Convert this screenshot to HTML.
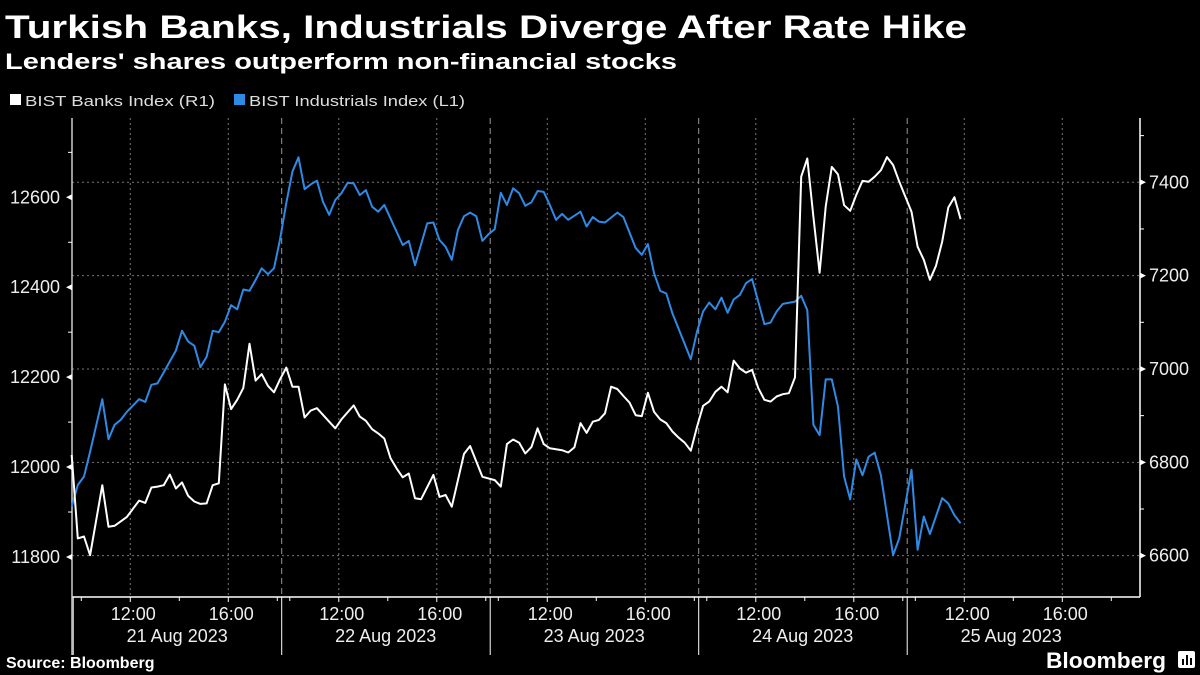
<!DOCTYPE html>
<html><head><meta charset="utf-8"><style>
html,body{margin:0;padding:0;background:#000;}
svg{display:block;font-family:"Liberation Sans",sans-serif;}
</style></head><body>
<svg id="chart" width="1200" height="675" viewBox="0 0 1200 675">
<rect width="1200" height="675" fill="#000"/>
<text x="5" y="38" fill="#fff" font-size="32" font-weight="bold" textLength="962" lengthAdjust="spacingAndGlyphs">Turkish Banks, Industrials Diverge After Rate Hike</text>
<text x="5" y="69" fill="#fff" font-size="22" font-weight="bold" textLength="672" lengthAdjust="spacingAndGlyphs">Lenders' shares outperform non-financial stocks</text>
<g>
<g><rect x="10" y="94" width="11" height="11" fill="#fff"/><text x="25" y="106" fill="#ddd" font-size="15" textLength="190" lengthAdjust="spacingAndGlyphs">BIST Banks Index (R1)</text></g>
<g><rect x="234" y="94" width="11" height="11" fill="#2f8ae6"/><text x="249" y="106" fill="#ddd" font-size="15" textLength="216" lengthAdjust="spacingAndGlyphs">BIST Industrials Index (L1)</text></g>
</g>
<g id="grid"></g>
<g id="axes"></g>
<g id="series"></g>
<text x="6" y="668" fill="#fff" font-size="16" font-weight="bold">Source: Bloomberg</text>
<text x="1046" y="668" fill="#fff" font-size="22" font-weight="bold" textLength="120" lengthAdjust="spacingAndGlyphs">Bloomberg</text>
<g><rect x="1178" y="651" width="17" height="17" rx="2" fill="#fff"/><rect x="1182" y="659" width="2" height="6" fill="#000"/><rect x="1186" y="655" width="2" height="10" fill="#000"/><rect x="1190" y="658" width="2" height="7" fill="#000"/></g>
</svg>
<script>
// quarter-hour bar index (0 = first bar of 21 Aug)
const industrialsIdx = [0,1,2,3,5,6,7,8,9,11,12,13,14,17,18,19,20,21,22,23,24,25,26,27,28,29,30,31,32,33,34,35,36,37,38,39,40,41,42,43,44,45,46,47,48,49,50,51,54,55,56,58,59,60,61,62,63,64,65,66,67,68,69,70,71,72,73,74,75,76,77,78,79,80,81,83,84,85,86,87,89,90,92,93,94,95,96,97,98,101,102,103,104,105,106,107,108,109,110,111,113,114,115,116,118,119,120,121,122,123,124,125,126,127,128,129,130,131,132,134,135,137,138,139,140,142,143,144,145];
const industrialsVals = [11912,11960,11979,12034,12151,12062,12094,12105,12123,12151,12145,12183,12186,12259,12303,12279,12270,12222,12245,12303,12300,12323,12360,12351,12395,12392,12416,12442,12429,12442,12507,12587,12657,12689,12618,12629,12637,12590,12561,12594,12609,12632,12631,12605,12616,12579,12568,12583,12494,12503,12449,12542,12544,12505,12490,12461,12527,12558,12566,12558,12503,12518,12529,12610,12583,12620,12609,12581,12589,12614,12612,12583,12550,12563,12550,12568,12535,12556,12546,12544,12566,12556,12487,12472,12496,12431,12392,12386,12342,12240,12301,12346,12366,12351,12377,12343,12373,12383,12409,12418,12318,12321,12346,12363,12368,12381,12349,12094,12071,12195,12195,12134,11979,11928,12017,11982,12023,12032,11982,11804,11842,11994,11816,11890,11851,11931,11919,11893,11875];
const banksIdx = [0,1,2,3,5,6,7,9,11,12,13,14,15,16,17,18,19,20,21,22,23,24,25,26,27,28,29,30,31,32,33,34,35,36,37,38,39,40,42,43,44,46,47,48,49,50,51,52,53,54,55,56,57,59,60,61,62,64,65,67,69,70,71,72,73,74,75,76,77,78,80,81,82,83,84,85,86,87,88,89,90,91,92,93,94,95,96,97,98,99,100,101,102,103,104,105,106,107,108,109,110,111,112,113,114,115,116,117,118,119,120,121,122,123,124,125,126,127,128,129,130,131,132,133,134,135,136,137,138,139,140,141,142,143,144,145];
const banksVals = [6816,6637,6641,6601,6751,6662,6664,6683,6718,6713,6746,6748,6751,6774,6744,6757,6728,6716,6711,6712,6751,6755,6967,6914,6934,6959,7054,6975,6989,6964,6950,6978,7003,6962,6962,6896,6911,6916,6887,6873,6892,6922,6898,6889,6871,6862,6851,6809,6787,6768,6776,6723,6721,6773,6726,6730,6705,6818,6835,6769,6762,6748,6839,6849,6842,6819,6833,6873,6839,6830,6826,6821,6832,6884,6863,6887,6891,6905,6962,6957,6942,6928,6901,6899,6949,6908,6892,6884,6866,6853,6842,6825,6876,6921,6930,6951,6962,6950,7018,7001,6992,6998,6959,6934,6930,6941,6946,6948,6982,7412,7451,7326,7206,7348,7433,7417,7351,7339,7373,7403,7401,7412,7426,7454,7437,7401,7369,7337,7262,7234,7191,7221,7273,7346,7368,7321];
const leftTicks = [11800,12000,12200,12400,12600];
const leftMinor = [11900,12100,12300,12500,12700];
const rightTicks = [6600,6800,7000,7200,7400];
const rightMinor = [6700,6900,7100,7300,7500];
const dayLabels = ["21 Aug 2023","22 Aug 2023","23 Aug 2023","24 Aug 2023","25 Aug 2023"];
const hourLabels = ["12:00","16:00"];
const hourVals = [12,16];
const minorHours = [10,14,18];

const NS="http://www.w3.org/2000/svg";
const X0=72, X1=1140, YT=118, YB=597;
function xIdx(i){return 71.7+i*6.13;}
function xClock(d,h){return 73.2+d*208.5+(h-9.67)*24.5;}
function yL(v){return 197.3+(12600-v)*0.4496;}
function yR(v){return 182.3+(7400-v)*0.4667;}
function mk(tag,attrs,parent){const e=document.createElementNS(NS,tag);for(const k in attrs)e.setAttribute(k,attrs[k]);parent.appendChild(e);return e;}
const grid=document.getElementById('grid'), axes=document.getElementById('axes'), series=document.getElementById('series');

rightTicks.forEach(v=>{
  const l=mk('line',{x1:X0,x2:X1,y1:yR(v),y2:yR(v),stroke:'#777','stroke-width':1,'stroke-dasharray':'2,3'},grid);
  
  
});
dayLabels.forEach((lab,d)=>{
  hourVals.forEach((h,k)=>{
    const x=xClock(d,h);
    const g=mk('line',{x1:x,x2:x,y1:YT,y2:YB,stroke:'#777','stroke-width':1,'stroke-dasharray':'2,3'},grid);
    
    
    const t=mk('text',{x:x+3,y:620,fill:'#eee','font-size':18,'text-anchor':'middle'},axes);
    t.textContent=hourLabels[k];
    
    
    mk('line',{x1:x,x2:x,y1:YB,y2:YB+5,stroke:'#fff'},axes);
  });
  minorHours.forEach(h=>{const x=xClock(d,h);if(x<X1)mk('line',{x1:x,x2:x,y1:YB,y2:YB+4,stroke:'#fff'},axes);});
  const ds=73.2+d*208.5;
  if(d>0){
    const s=mk('line',{x1:ds,x2:ds,y1:YT,y2:YB,stroke:'#999','stroke-width':1,'stroke-dasharray':'6,4'},grid);
    
    
  }
  mk('line',{x1:ds,x2:ds,y1:YB,y2:655,stroke:'#fff','stroke-width':1},axes);
  const dt=mk('text',{x:ds+104,y:642,fill:'#eee','font-size':18,'text-anchor':'middle'},axes);
  dt.textContent=lab;
  
  
});
// axis lines
const xa=mk('line',{x1:X0,x2:X1,y1:YB,y2:YB,stroke:'#fff','stroke-width':1.5},axes);


const la=mk('line',{x1:X0,x2:X0,y1:YT,y2:655,stroke:'#ccc','stroke-width':1.5},axes);


const ra=mk('line',{x1:X1,x2:X1,y1:YT,y2:YB,stroke:'#fff','stroke-width':1.5},axes);


leftTicks.forEach(v=>{
  const y=yL(v);
  mk('polygon',{points:`${X0-6},${y} ${X0},${y-3} ${X0},${y+3}`,fill:'#fff'},axes);
  const t=mk('text',{x:60,y:y+6,fill:'#eee','font-size':18,'text-anchor':'end'},axes);
  t.textContent=v;
  
  
});
leftMinor.forEach(v=>{const y=yL(v);if(y>YT&&y<YB)mk('line',{x1:X0-4,x2:X0,y1:y,y2:y,stroke:'#fff'},axes);});
rightTicks.forEach(v=>{
  const y=yR(v);
  mk('polygon',{points:`${X1+6},${y} ${X1},${y-3} ${X1},${y+3}`,fill:'#fff'},axes);
  const t=mk('text',{x:1149,y:y+6,fill:'#eee','font-size':18},axes);
  t.textContent=v;
  
  
});
rightMinor.forEach(v=>{const y=yR(v);if(y>YT&&y<YB)mk('line',{x1:X1,x2:X1+4,y1:y,y2:y,stroke:'#fff'},axes);});

const pInd=industrialsIdx.map((i,k)=>xIdx(i).toFixed(1)+','+yL(industrialsVals[k]).toFixed(1)).join(' ');
const li=mk('polyline',{points:pInd,fill:'none',stroke:'#2f8ae6','stroke-width':2,'stroke-linejoin':'round'},series);


const pBank=banksIdx.map((i,k)=>xIdx(i).toFixed(1)+','+yR(banksVals[k]).toFixed(1)).join(' ');
const lb=mk('polyline',{points:pBank,fill:'none',stroke:'#fff','stroke-width':2,'stroke-linejoin':'round'},series);


</script>
</body></html>
